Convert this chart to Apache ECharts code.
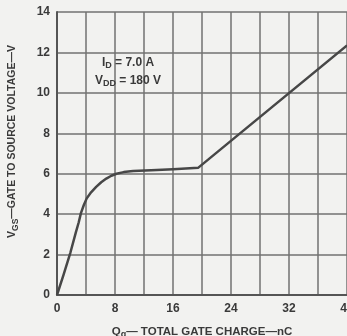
<!DOCTYPE html>
<html>
<head>
<meta charset="utf-8">
<script src="https://cdn.jsdelivr.net/npm/echarts@6/dist/echarts.min.js"></script>
<style>
html,body{margin:0;padding:0;background:#f2f2f0;}
#c{width:347px;height:336px;}
</style>
</head>
<body>
<div id="c"></div>
<script>
// Gate charge Qg (nC) and gate-source voltage VGS (V)
const chargeNC = [0, 0.9, 1.85, 2.6, 3.0, 3.3, 3.7, 4.1, 4.7, 5.4, 6.1, 6.8, 7.5, 8.2, 9.2, 10.5, 13, 16, 19.5, 40];
const vgsVolts = [0, 1.0, 2.1, 3.1, 3.6, 4.05, 4.45, 4.78, 5.08, 5.35, 5.58, 5.76, 5.9, 6.0, 6.08, 6.13, 6.17, 6.22, 6.3, 12.35];
const xTickLabels = ['0', '8', '16', '24', '32', '40'];
const yTickLabels = ['0', '2', '4', '6', '8', '10', '12', '14'];
const annotationLines = ['I{sub|D} = 7.0 A', 'V{sub|DD} = 180 V'];
const xTitle = 'Q{sub|g}\u2014 TOTAL GATE CHARGE\u2014nC';
const yTitle = 'V{sub|GS}\u2014GATE TO SOURCE VOLTAGE\u2014V';

const FONT = '"Liberation Sans", Arial, sans-serif';
const TXT = '#3a3a3a';
const chart = echarts.init(document.getElementById('c'), null, {renderer: 'canvas'});
const subStyle = {fontSize: 9, fontWeight: 'bold', fontFamily: FONT, color: TXT, padding: [6, 0, 0, 0]};

chart.setOption({
  backgroundColor: '#f2f2f0',
  animation: false,
  grid: {left: 57, top: 12, right: 0, bottom: 41, containLabel: false, outerBoundsMode: 'none'},
  xAxis: {
    type: 'value', min: 0, max: 40, interval: 4,
    name: xTitle, nameLocation: 'middle', nameGap: 29,
    nameTextStyle: {fontSize: 11.5, fontWeight: 'bold', fontFamily: FONT, color: TXT, rich: {sub: subStyle}},
    axisLine: {show: true, lineStyle: {color: '#555', width: 2}},
    axisTick: {show: false},
    axisLabel: {
      margin: 8, fontSize: 12, fontWeight: 'bold', fontFamily: FONT, color: TXT,
      formatter: v => (v % 8 === 0 ? xTickLabels[v / 8] : '')
    },
    splitLine: {show: true, lineStyle: {color: '#727272', width: 1.5}}
  },
  yAxis: {
    type: 'value', min: 0, max: 14, interval: 2,
    name: yTitle, nameLocation: 'middle', nameGap: 37, nameRotate: 90,
    nameTextStyle: {fontSize: 10.5, fontWeight: 'bold', fontFamily: FONT, color: TXT, padding: [0, 0, 0, 24], rich: {sub: {fontSize: 8.5, fontWeight: 'bold', fontFamily: FONT, color: TXT, padding: [6, 0, 0, 0]}}},
    axisLine: {show: true, lineStyle: {color: '#555', width: 2}},
    axisTick: {show: false},
    axisLabel: {
      margin: 7, fontSize: 12, fontWeight: 'bold', fontFamily: FONT, color: TXT,
      padding: [0, 0, 3, 0],
      formatter: v => yTickLabels[v / 2]
    },
    splitLine: {show: true, lineStyle: {color: '#727272', width: 1.5}}
  },
  graphic: [{
    type: 'text', x: 128, y: 54, z: 10,
    style: {
      text: annotationLines.join('\n'),
      fontSize: 12, fontWeight: 'bold', fontFamily: FONT, fill: TXT,
      align: 'center', lineHeight: 18,
      rich: {sub: {fontSize: 9, fontWeight: 'bold', fontFamily: FONT, fill: TXT, padding: [6, 0, 0, 0]}}
    }
  }],
  series: [{
    type: 'line',
    data: chargeNC.map((q, i) => [q, vgsVolts[i]]),
    showSymbol: false,
    smooth: false,
    lineStyle: {color: '#474747', width: 2.5, join: 'round'},
    clip: true
  }]
});
</script>
</body>
</html>
